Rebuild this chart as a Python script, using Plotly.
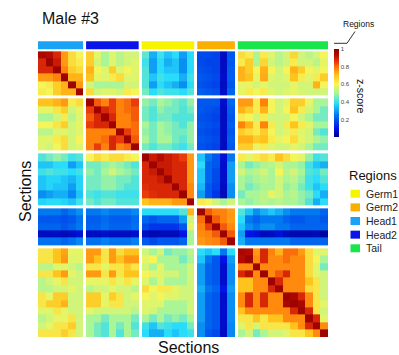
import plotly.graph_objects as go

# ---------------- data ----------------
groups = ["Head1", "Head2", "Germ1", "Germ2", "Tail"]          # order along both axes
group_sizes = [6, 7, 7, 5, 12]                                  # sections per region
legend_order = ["Germ1", "Germ2", "Head1", "Head2", "Tail"]
region_colors = {"Head1": "#1AA3F5", "Head2": "#0A14E6", "Germ1": "#F5F500",
                 "Germ2": "#FAAF00", "Tail": "#19E64B"}
colorbar_ticks = [0.2, 0.4, 0.6, 0.8, 1]
colorbar_ticktext = ["0.2", "0.4", "0.6", "0.8", "1"]

# z-score matrix, rows/cols = sections (Head1 | Head2 | Germ1 | Germ2 | Tail)
rows_head1 = [
    [0.95,0.93,0.88,0.75,0.65,0.6, 0.68,0.58,0.5,0.57,0.52,0.55,0.55, 0.43,0.32,0.4,0.35,0.38,0.3,0.38, 0.18,0.18,0.17,0.06,0.2, 0.65,0.62,0.5,0.62,0.57,0.52,0.55,0.66,0.55,0.52,0.56,0.6],
    [0.88,0.97,0.9,0.75,0.65,0.62, 0.68,0.55,0.5,0.57,0.52,0.55,0.57, 0.4,0.3,0.38,0.32,0.35,0.28,0.38, 0.18,0.17,0.17,0.06,0.2, 0.62,0.68,0.5,0.66,0.55,0.52,0.55,0.62,0.55,0.55,0.52,0.58],
    [0.88,0.88,0.97,0.78,0.68,0.65, 0.72,0.6,0.57,0.68,0.57,0.6,0.57, 0.42,0.3,0.38,0.35,0.35,0.28,0.38, 0.19,0.18,0.17,0.06,0.21, 0.72,0.68,0.6,0.72,0.6,0.55,0.6,0.72,0.68,0.6,0.57,0.6],
    [0.75,0.75,0.78,0.97,0.72,0.72, 0.7,0.58,0.57,0.62,0.65,0.57,0.57, 0.42,0.35,0.4,0.38,0.38,0.32,0.4, 0.2,0.19,0.18,0.07,0.21, 0.72,0.7,0.58,0.73,0.57,0.55,0.57,0.7,0.62,0.57,0.62,0.68],
    [0.6,0.62,0.68,0.72,0.97,0.75, 0.55,0.5,0.5,0.5,0.5,0.55,0.55, 0.42,0.3,0.38,0.35,0.32,0.28,0.38, 0.19,0.18,0.17,0.06,0.2, 0.58,0.58,0.55,0.58,0.55,0.55,0.55,0.58,0.55,0.56,0.72,0.6],
    [0.62,0.6,0.68,0.72,0.72,0.97, 0.65,0.55,0.57,0.57,0.55,0.62,0.6, 0.45,0.38,0.42,0.4,0.4,0.38,0.42, 0.21,0.2,0.19,0.07,0.22, 0.58,0.62,0.6,0.62,0.57,0.55,0.57,0.58,0.56,0.55,0.55,0.55],
]
rows_head2 = [
    [0.7,0.7,0.72,0.75,0.62,0.65, 0.97,0.82,0.78,0.85,0.78,0.8,0.85, 0.48,0.45,0.5,0.48,0.45,0.43,0.48, 0.2,0.2,0.2,0.07,0.22, 0.75,0.75,0.62,0.78,0.6,0.55,0.58,0.68,0.68,0.58,0.5,0.5],
    [0.58,0.58,0.63,0.68,0.55,0.58, 0.85,0.97,0.88,0.85,0.78,0.8,0.82, 0.45,0.42,0.48,0.45,0.45,0.42,0.45, 0.2,0.19,0.18,0.06,0.21, 0.72,0.68,0.62,0.72,0.6,0.55,0.6,0.7,0.62,0.55,0.5,0.45],
    [0.5,0.5,0.55,0.62,0.52,0.57, 0.82,0.88,0.97,0.88,0.78,0.78,0.82, 0.45,0.42,0.45,0.45,0.42,0.42,0.42, 0.19,0.18,0.17,0.06,0.2, 0.62,0.6,0.55,0.62,0.55,0.55,0.55,0.6,0.55,0.5,0.45,0.45],
    [0.6,0.6,0.63,0.68,0.55,0.58, 0.85,0.88,0.88,0.97,0.78,0.78,0.8, 0.5,0.45,0.5,0.48,0.45,0.42,0.48, 0.2,0.19,0.18,0.06,0.21, 0.78,0.72,0.62,0.78,0.62,0.55,0.62,0.7,0.62,0.57,0.5,0.5],
    [0.52,0.52,0.57,0.57,0.55,0.57, 0.78,0.78,0.78,0.78,0.97,0.85,0.8, 0.48,0.45,0.5,0.48,0.45,0.45,0.48, 0.19,0.18,0.17,0.06,0.2, 0.68,0.65,0.62,0.68,0.6,0.55,0.57,0.62,0.57,0.55,0.45,0.42],
    [0.57,0.57,0.62,0.65,0.55,0.6, 0.78,0.78,0.8,0.88,0.85,0.97,0.82, 0.5,0.45,0.5,0.5,0.45,0.43,0.48, 0.2,0.19,0.18,0.06,0.21, 0.72,0.72,0.68,0.7,0.62,0.58,0.6,0.65,0.58,0.55,0.5,0.48],
    [0.57,0.55,0.6,0.65,0.55,0.57, 0.78,0.85,0.78,0.88,0.78,0.8,0.97, 0.45,0.42,0.45,0.45,0.42,0.4,0.45, 0.19,0.18,0.17,0.06,0.2, 0.68,0.68,0.58,0.62,0.57,0.55,0.55,0.58,0.55,0.5,0.45,0.45],
]
rows_germ1 = [
    [0.42,0.45,0.48,0.45,0.4,0.42, 0.6,0.65,0.62,0.65,0.65,0.62,0.6, 0.97,0.9,0.93,0.9,0.88,0.85,0.75, 0.35,0.25,0.2,0.08,0.25, 0.62,0.58,0.62,0.65,0.62,0.7,0.65,0.6,0.58,0.48,0.4,0.42],
    [0.35,0.35,0.38,0.38,0.3,0.35, 0.45,0.45,0.48,0.5,0.48,0.45,0.42, 0.88,0.97,0.9,0.9,0.88,0.88,0.75, 0.38,0.22,0.2,0.07,0.3, 0.5,0.45,0.48,0.5,0.52,0.55,0.5,0.5,0.48,0.4,0.35,0.32],
    [0.4,0.42,0.4,0.4,0.38,0.4, 0.48,0.45,0.5,0.55,0.5,0.48,0.45, 0.88,0.9,0.97,0.9,0.88,0.88,0.75, 0.35,0.22,0.18,0.07,0.3, 0.55,0.5,0.52,0.55,0.5,0.6,0.52,0.55,0.5,0.42,0.4,0.45],
    [0.35,0.37,0.37,0.35,0.33,0.37, 0.45,0.45,0.48,0.48,0.45,0.45,0.42, 0.88,0.88,0.9,0.97,0.88,0.88,0.75, 0.35,0.22,0.18,0.07,0.3, 0.5,0.48,0.5,0.52,0.5,0.55,0.5,0.52,0.48,0.4,0.38,0.42],
    [0.35,0.37,0.35,0.35,0.3,0.37, 0.45,0.45,0.48,0.48,0.45,0.42,0.42, 0.87,0.88,0.88,0.88,0.97,0.88,0.77, 0.33,0.2,0.17,0.06,0.28, 0.5,0.45,0.48,0.5,0.5,0.55,0.48,0.5,0.45,0.4,0.35,0.38],
    [0.28,0.3,0.32,0.32,0.27,0.35, 0.42,0.4,0.42,0.42,0.4,0.4,0.4, 0.85,0.87,0.88,0.88,0.88,0.97,0.77, 0.3,0.2,0.15,0.05,0.28, 0.45,0.5,0.5,0.52,0.58,0.55,0.5,0.52,0.48,0.45,0.38,0.32],
    [0.37,0.38,0.38,0.37,0.35,0.4, 0.45,0.42,0.45,0.45,0.42,0.42,0.42, 0.7,0.72,0.72,0.72,0.75,0.75,0.97, 0.62,0.6,0.55,0.5,0.55, 0.5,0.48,0.5,0.52,0.5,0.52,0.5,0.5,0.48,0.42,0.32,0.38],
]
rows_germ2 = [
    [0.25,0.25,0.25,0.22,0.25,0.28, 0.25,0.25,0.27,0.25,0.25,0.25,0.27, 0.38,0.38,0.38,0.38,0.38,0.42,0.72, 0.97,0.82,0.78,0.78,0.75, 0.42,0.35,0.28,0.32,0.35,0.32,0.28,0.25,0.25,0.25,0.25,0.22],
    [0.2,0.2,0.2,0.19,0.2,0.24, 0.21,0.21,0.23,0.21,0.21,0.21,0.23, 0.22,0.2,0.22,0.22,0.22,0.3,0.55, 0.8,0.97,0.82,0.78,0.75, 0.38,0.25,0.22,0.25,0.25,0.25,0.22,0.2,0.2,0.22,0.22,0.2],
    [0.22,0.22,0.22,0.2,0.22,0.25, 0.22,0.22,0.24,0.22,0.22,0.22,0.24, 0.18,0.15,0.15,0.15,0.15,0.2,0.58, 0.78,0.85,0.97,0.82,0.77, 0.35,0.28,0.25,0.28,0.28,0.25,0.25,0.22,0.22,0.22,0.22,0.22],
    [0.06,0.06,0.06,0.05,0.06,0.08, 0.06,0.06,0.07,0.06,0.06,0.06,0.07, 0.06,0.04,0.05,0.05,0.05,0.1,0.5, 0.77,0.78,0.82,0.97,0.82, 0.3,0.1,0.08,0.05,0.06,0.08,0.05,0.04,0.04,0.04,0.05,0.02],
    [0.24,0.24,0.24,0.22,0.24,0.27, 0.24,0.24,0.26,0.24,0.24,0.24,0.26, 0.2,0.18,0.2,0.2,0.2,0.22,0.5, 0.75,0.77,0.78,0.82,0.97, 0.32,0.25,0.25,0.25,0.25,0.25,0.25,0.22,0.22,0.22,0.22,0.22],
]
rows_tail = [
    [0.63,0.63,0.7,0.74,0.58,0.58, 0.75,0.75,0.63,0.75,0.65,0.7,0.7, 0.55,0.5,0.55,0.45,0.48,0.48,0.52, 0.38,0.35,0.38,0.25,0.38, 0.95,0.93,0.75,0.88,0.78,0.72,0.8,0.8,0.75,0.65,0.57,0.57],
    [0.63,0.63,0.7,0.75,0.57,0.57, 0.75,0.7,0.63,0.75,0.7,0.75,0.75, 0.58,0.6,0.5,0.5,0.5,0.45,0.5, 0.35,0.25,0.2,0.1,0.3, 0.93,0.97,0.77,0.88,0.77,0.77,0.8,0.77,0.77,0.65,0.6,0.5],
    [0.52,0.52,0.57,0.57,0.55,0.52, 0.63,0.63,0.58,0.63,0.63,0.68,0.63, 0.55,0.5,0.58,0.5,0.5,0.5,0.55, 0.3,0.22,0.2,0.07,0.28, 0.77,0.77,0.97,0.77,0.77,0.77,0.77,0.77,0.77,0.65,0.57,0.45],
    [0.63,0.63,0.7,0.75,0.58,0.55, 0.75,0.75,0.63,0.75,0.63,0.7,0.7, 0.6,0.57,0.57,0.55,0.55,0.5,0.55, 0.3,0.22,0.2,0.07,0.28, 0.88,0.92,0.77,0.97,0.77,0.82,0.88,0.77,0.77,0.65,0.57,0.55],
    [0.52,0.55,0.58,0.63,0.55,0.55, 0.58,0.58,0.58,0.63,0.58,0.63,0.58, 0.57,0.5,0.57,0.5,0.5,0.5,0.55, 0.3,0.22,0.2,0.07,0.28, 0.7,0.7,0.77,0.77,0.97,0.88,0.77,0.77,0.77,0.7,0.63,0.55],
    [0.52,0.52,0.55,0.55,0.58,0.55, 0.52,0.55,0.55,0.58,0.55,0.55,0.52, 0.65,0.6,0.62,0.62,0.58,0.55,0.55, 0.32,0.25,0.22,0.1,0.3, 0.7,0.7,0.77,0.77,0.88,0.97,0.77,0.77,0.77,0.65,0.63,0.55],
    [0.63,0.58,0.68,0.68,0.55,0.55, 0.68,0.68,0.58,0.68,0.63,0.55,0.58, 0.6,0.57,0.6,0.57,0.57,0.55,0.55, 0.3,0.22,0.2,0.07,0.28, 0.77,0.88,0.77,0.88,0.77,0.77,0.97,0.95,0.88,0.77,0.63,0.55],
    [0.63,0.68,0.68,0.72,0.55,0.55, 0.68,0.68,0.58,0.63,0.63,0.55,0.55, 0.57,0.57,0.57,0.5,0.5,0.5,0.55, 0.3,0.22,0.2,0.07,0.28, 0.77,0.88,0.77,0.88,0.77,0.77,0.95,0.97,0.95,0.77,0.63,0.58],
    [0.57,0.57,0.63,0.58,0.55,0.55, 0.58,0.55,0.55,0.55,0.55,0.55,0.52, 0.57,0.55,0.5,0.5,0.5,0.5,0.55, 0.3,0.22,0.2,0.07,0.28, 0.7,0.77,0.77,0.77,0.77,0.77,0.77,0.88,0.97,0.88,0.63,0.55],
    [0.52,0.55,0.58,0.58,0.63,0.55, 0.5,0.5,0.45,0.5,0.5,0.5,0.45, 0.5,0.45,0.5,0.45,0.48,0.45,0.5, 0.3,0.22,0.2,0.07,0.28, 0.63,0.63,0.7,0.63,0.7,0.7,0.77,0.77,0.77,0.97,0.88,0.58],
    [0.55,0.58,0.63,0.63,0.68,0.55, 0.5,0.45,0.42,0.5,0.45,0.5,0.42, 0.4,0.35,0.42,0.4,0.38,0.38,0.45, 0.28,0.22,0.2,0.07,0.27, 0.57,0.63,0.55,0.63,0.63,0.63,0.63,0.7,0.77,0.88,0.97,0.77],
    [0.63,0.63,0.63,0.68,0.63,0.55, 0.5,0.45,0.42,0.5,0.42,0.5,0.45, 0.38,0.32,0.32,0.38,0.35,0.38,0.4, 0.28,0.2,0.18,0.06,0.27, 0.5,0.55,0.45,0.5,0.55,0.55,0.57,0.63,0.63,0.7,0.77,0.97],
]
matrix = rows_head1 + rows_head2 + rows_germ1 + rows_germ2 + rows_tail

# ---------------- layout helpers ----------------
GAP = 0.4  # white separation between regions, in cell units

def edges_and_slots(sizes):
    edges, slots, spans = [0.0], [], []
    pos = 0.0
    idx = 0
    for g, n in enumerate(sizes):
        start = pos
        for _ in range(n):
            pos += 1
            edges.append(pos)
            slots.append(idx)
            idx += 1
        spans.append((start, pos))
        if g < len(sizes) - 1:
            pos += GAP
            edges.append(pos)
            slots.append(None)
    return edges, slots, spans

edges, slots, spans = edges_and_slots(group_sizes)
W = edges[-1]

z = []
for rs in slots:
    if rs is None:
        z.append([None] * len(slots))
    else:
        z.append([None if cs is None else matrix[rs][cs] for cs in slots])

# jet-like palette, a bit softer in the middle as in the original figure
jet = [[0.0, "rgb(0,0,140)"], [0.1, "rgb(0,20,230)"], [0.25, "rgb(0,120,240)"],
       [0.38, "rgb(40,220,250)"], [0.5, "rgb(170,245,150)"], [0.6, "rgb(245,245,90)"],
       [0.7, "rgb(255,195,30)"], [0.78, "rgb(255,130,10)"], [0.86, "rgb(230,50,10)"],
       [0.93, "rgb(180,10,0)"], [1.0, "rgb(140,0,0)"]]

FW, FH = 399, 355
ML, MR, MT, MB = 38, 71, 41, 18
PW, PH = FW - ML - MR, FH - MT - MB

def xp(px):
    return (px - ML) / PW

def yp(py):
    return (FH - MB - py) / PH

Y_TOP = -1.4
FONT = "Liberation Sans, Arial, sans-serif"

fig = go.Figure()
fig.add_trace(go.Heatmap(
    z=z, x=edges, y=edges, colorscale=jet, zmin=0, zmax=1,
    hoverongaps=False,
    colorbar=dict(
        x=xp(334), xanchor="left", xpad=0, ypad=0,
        y=yp(49), yanchor="top", lenmode="pixels", len=88,
        thickness=5, outlinewidth=0, ticks="", ticklen=2,
        tickvals=colorbar_ticks, ticktext=colorbar_ticktext,
        tickfont=dict(size=6, color="#444", family=FONT),
    ),
))

shapes = []
# region colour strip above the heatmap
for g, (a, b) in zip(groups, spans):
    shapes.append(dict(type="rect", xref="x", yref="y", x0=a, x1=b,
                       y0=-0.27 - 8 / (PH / (W - Y_TOP)), y1=-0.27,
                       fillcolor=region_colors[g], line_width=0, layer="above"))

# leader line pointing from colour strip to "Regions"
shapes.append(dict(type="path", xref="paper", yref="paper",
                   path=f"M {xp(334)},{yp(43.3)} L {xp(347)},{yp(43.3)} L {xp(355)},{yp(31.5)}",
                   line=dict(color="#333", width=1)))

annotations = [
    dict(text="Male #3", x=xp(40), y=yp(18.5), xanchor="left", yanchor="middle",
         font=dict(size=16, family=FONT, color="#111")),
    dict(text="Sections", x=xp(188.5), y=yp(347.5), xanchor="center", yanchor="middle",
         font=dict(size=16, family=FONT, color="#111")),
    dict(text="Sections", x=xp(25), y=yp(192), xanchor="center", yanchor="middle",
         textangle=-90, font=dict(size=16, family=FONT, color="#111")),
    dict(text="Regions", x=xp(358), y=yp(24), xanchor="center", yanchor="middle",
         font=dict(size=8.5, family=FONT, color="#111")),
    dict(text="z-score", x=xp(361), y=yp(97), xanchor="center", yanchor="middle",
         textangle=90, font=dict(size=10.5, family=FONT, color="#111")),
    dict(text="Regions", x=xp(346.5), y=yp(175.5), xanchor="left", yanchor="middle",
         font=dict(size=13, family=FONT, color="#111")),
]

# legend (manual, tight spacing as in the original)
for i, name in enumerate(legend_order):
    cy = 193.7 + i * 13.65
    shapes.append(dict(type="rect", xref="paper", yref="paper",
                       x0=xp(350.5), x1=xp(360), y0=yp(cy + 4), y1=yp(cy - 4),
                       fillcolor=region_colors[name], line_width=0))
    annotations.append(dict(text=name, x=xp(363.5), y=yp(cy), xanchor="left",
                            yanchor="middle",
                            font=dict(size=10.5, family=FONT, color="#222")))

for a in annotations:
    a.setdefault("xref", "paper")
    a.setdefault("yref", "paper")
    a["showarrow"] = False

fig.update_layout(
    width=FW, height=FH,
    margin=dict(l=ML, r=MR, t=MT, b=MB, pad=0),
    paper_bgcolor="white", plot_bgcolor="white",
    xaxis=dict(range=[0, W], visible=False, fixedrange=True),
    yaxis=dict(range=[W, Y_TOP], visible=False, fixedrange=True),
    shapes=shapes, annotations=annotations,
    showlegend=False,
)

fig.write_html("out.html")
